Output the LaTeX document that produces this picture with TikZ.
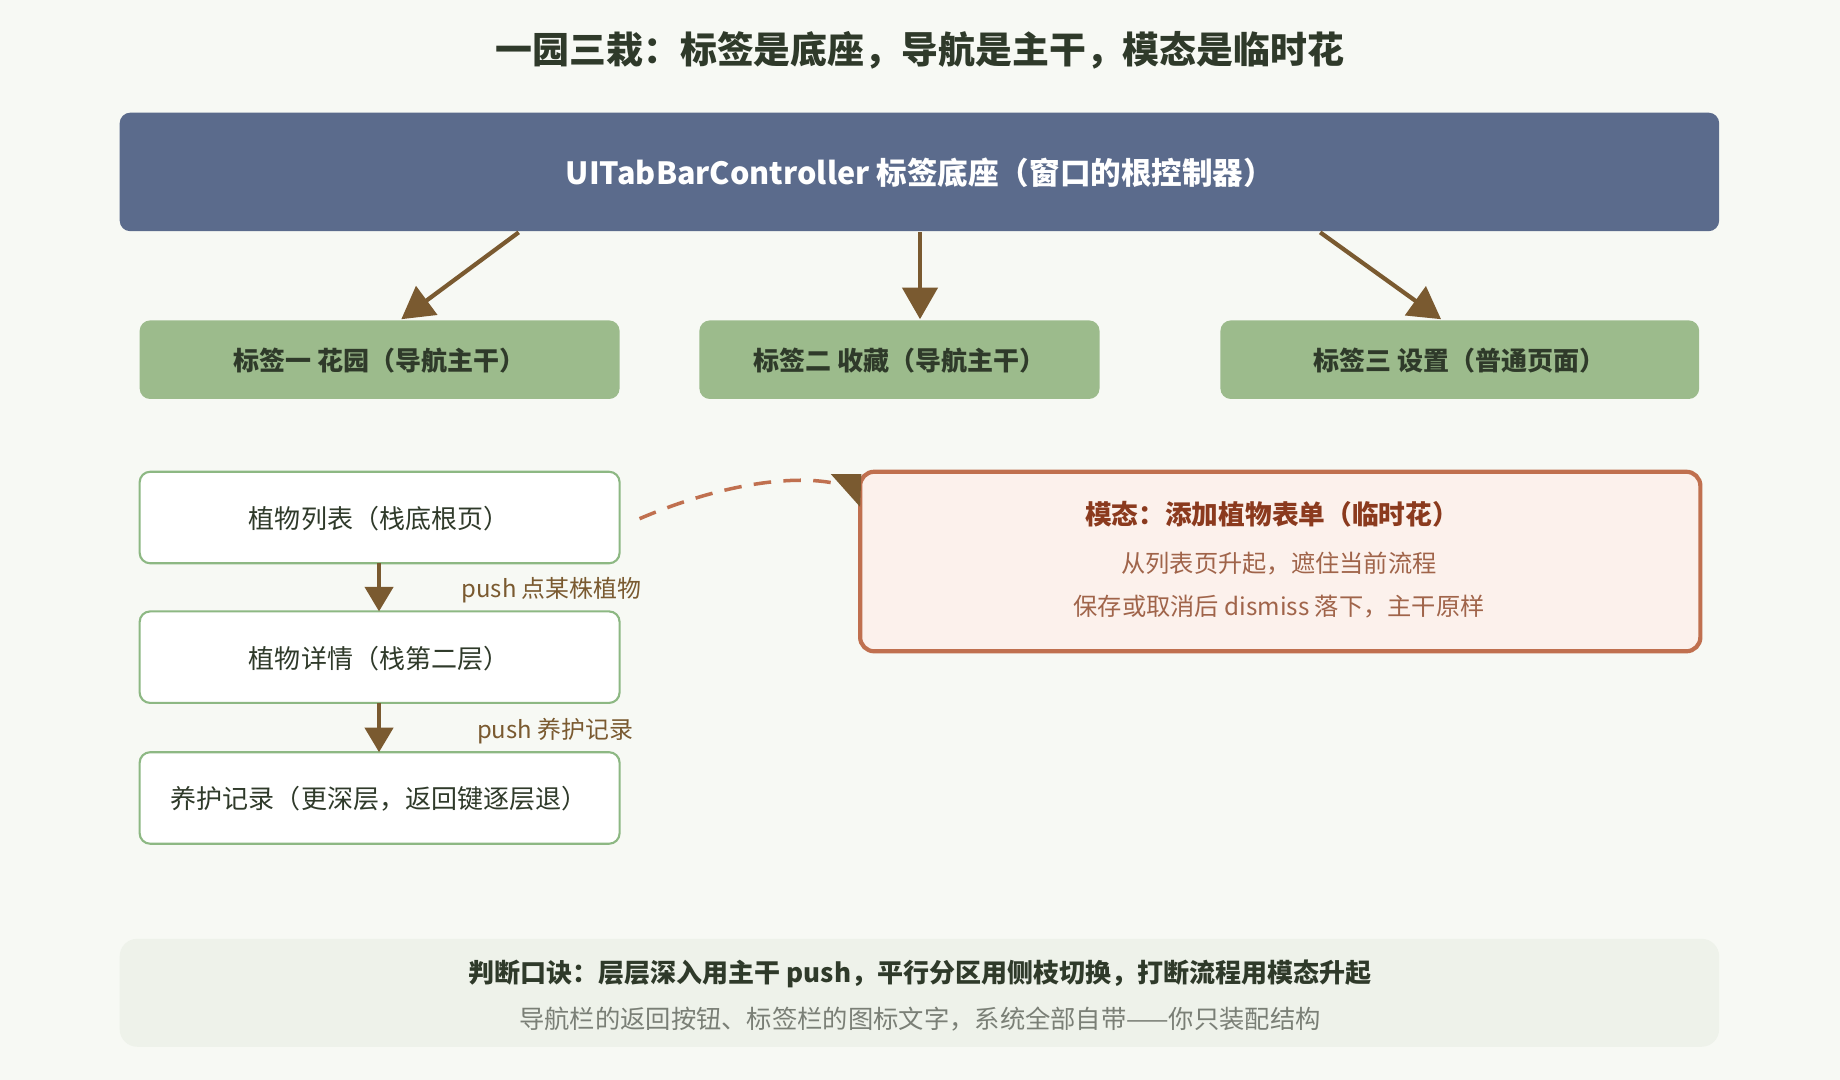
\documentclass[tikz,border=0pt]{standalone}
\usepackage{fontspec}
\setmainfont{Noto Sans CJK SC}
\usetikzlibrary{arrows.meta}
\definecolor{bg}{HTML}{F7F9F4}
\definecolor{topc}{HTML}{5B6B8C}
\definecolor{grn}{HTML}{9CBB8C}
\definecolor{dark}{HTML}{2F3A2A}
\definecolor{brn}{HTML}{7A5A30}
\definecolor{wbd}{HTML}{8DB883}
\definecolor{mfill}{HTML}{FCF1EC}
\definecolor{mbd}{HTML}{C0704F}
\definecolor{mtit}{HTML}{8B3A1E}
\definecolor{mtxt}{HTML}{A0644A}
\definecolor{bfill}{HTML}{EEF2EA}
\definecolor{gtxt}{HTML}{7A7F76}
\begin{document}
\begin{tikzpicture}[x=0.011735cm,y=-0.011735cm,
  box/.style={draw=none,rounded corners=3pt,inner sep=0pt},
  arr/.style={draw=brn,line width=1.2pt,-{Triangle[length=9pt,width=10pt]}},
  sarr/.style={draw=brn,line width=1.2pt,-{Triangle[length=7pt,width=8pt]}}]
\useasboundingbox[fill=bg] (0,0) rectangle (1568,920);
\node[font=\bfseries\fontsize{10.5}{12}\selectfont,text=dark] (title) at (784,43) {一园三栽：标签是底座，导航是主干，模态是临时花};
\path[box,fill=topc] (102,96) rectangle (1465,197);
\node[font=\bfseries\fontsize{8.7}{10}\selectfont,text=white] (top) at (784,147) {UITabBarController 标签底座（窗口的根控制器）};
\coordinate (t1) at (442,198); \coordinate (t2) at (784,198); \coordinate (t3) at (1125,198);
\foreach \a/\b/\t in {119/528/{标签一 花园（导航主干）},596/937/{标签二 收藏（导航主干）},1040/1448/{标签三 设置（普通页面）}}{
  \path[box,fill=grn] (\a,273) rectangle (\b,340);
  \node[font=\bfseries\fontsize{7.4}{9}\selectfont,text=dark] at ({(\a+\b)/2},307) {\t};}
\coordinate (g1) at (342,272); \coordinate (g2) at (784,272); \coordinate (g3) at (1228,272);
\draw[arr] (t1) -- (g1);
\draw[arr] (t2) -- (g2);
\draw[arr] (t3) -- (g3);
\foreach \y/\t in {402/{植物列表（栈底根页）},521/{植物详情（栈第二层）},641/{养护记录（更深层，返回键逐层退）}}{
  \path[box,fill=white,draw=wbd,line width=0.6pt] (119,\y) rectangle (528,\y+78);
  \node[font=\fontsize{7.4}{9}\selectfont,text=dark] at (323,\y+40) {\t};}
\coordinate (w1b) at (323,480); \coordinate (w2t) at (323,521);
\coordinate (w2b) at (323,599); \coordinate (w3t) at (323,641);
\draw[sarr] (w1b) -- (w2t);
\draw[sarr] (w2b) -- (w3t);
\node[font=\fontsize{6.8}{8}\selectfont,text=brn] (l1) at (470,503) {push 点某株植物};
\node[font=\fontsize{6.8}{8}\selectfont,text=brn] (l2) at (473,623) {push 养护记录};
\path[draw=mbd,fill=mfill,line width=1.2pt,rounded corners=4pt] (733,402) rectangle (1449,555);
\node[font=\bfseries\fontsize{7.6}{9}\selectfont,text=mtit] (mt) at (1084,438) {模态：添加植物表单（临时花）};
\node[font=\fontsize{6.9}{8}\selectfont,text=mtxt] (m1) at (1090,480) {从列表页升起，遮住当前流程};
\node[font=\fontsize{6.9}{8}\selectfont,text=mtxt] (m2) at (1090,517) {保存或取消后 dismiss 落下，主干原样};
\coordinate (ds) at (545,442); \coordinate (de) at (733,428);
\draw[draw=mbd,line width=1pt,dash pattern=on 5pt off 3.5pt] (ds) .. controls (620,410) and (680,405) .. (712,412);
\draw[draw=none,fill=brn] (733,432) -- (708,404) -- (734,404) -- cycle;
\path[box,fill=bfill,rounded corners=5pt] (102,800) rectangle (1465,892);
\node[font=\bfseries\fontsize{7.4}{9}\selectfont,text=dark] (b1) at (784,830) {判断口诀：层层深入用主干 push，平行分区用侧枝切换，打断流程用模态升起};
\node[font=\fontsize{7.2}{9}\selectfont,text=gtxt] (b2) at (784,868) {导航栏的返回按钮、标签栏的图标文字，系统全部自带——你只装配结构};
\end{tikzpicture}
\end{document}
